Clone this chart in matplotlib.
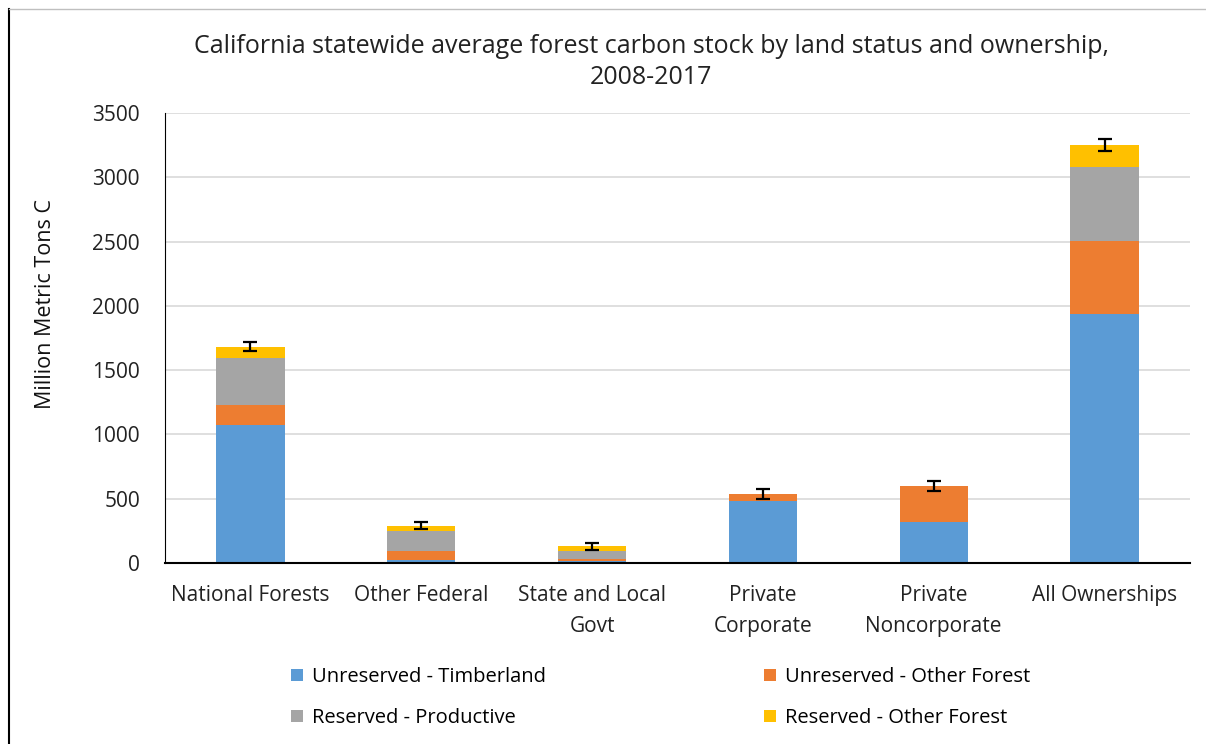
import numpy as np
import matplotlib.pyplot as plt
from matplotlib.lines import Line2D

plt.rcParams['font.family'] = ['Open Sans', 'DejaVu Sans']

# Data (million metric tons C)
owners = ['National Forests', 'Other Federal', 'State and Local\nGovt',
          'Private\nCorporate', 'Private\nNoncorporate', 'All Ownerships']
unres_timber = [1074, 27, 13, 482, 319, 1935]
unres_other = [155, 66, 16, 55, 280, 570]
res_productive = [363, 153, 64, 0, 0, 576]
res_other = [91, 44, 37, 0, 0, 171]
total_err = [35, 29, 25, 36, 36, 49]

series = [
    ('Unreserved - Timberland', unres_timber, '#5b9bd5'),
    ('Unreserved - Other Forest', unres_other, '#ed7d31'),
    ('Reserved - Productive', res_productive, '#a5a5a5'),
    ('Reserved - Other Forest', res_other, '#ffc000'),
]

W, H = 1206, 744
fig = plt.figure(figsize=(W / 100, H / 100), dpi=100)
ax = fig.add_axes([165 / W, 1 - 563 / H, 1025 / W, 450 / H])

x = np.arange(len(owners))
bottom = np.zeros(len(owners))
handles = []
for label, vals, color in series:
    vals = np.array(vals, dtype=float)
    b = ax.bar(x, vals, width=0.4, bottom=bottom, color=color, label=label, zorder=2)
    handles.append(b)
    bottom += vals

ax.errorbar(x, bottom, yerr=total_err, fmt='none', ecolor='black',
            elinewidth=1.6, capsize=5, capthick=1.6, zorder=3)

ax.set_xlim(-0.5, len(owners) - 0.5)
ax.set_ylim(0, 3500)
ax.set_yticks(np.arange(0, 3501, 500))
ax.yaxis.grid(True, color='#d9d9d9', linewidth=1.2, zorder=0)
ax.set_axisbelow(True)
ax.set_xticks(x)
ax.set_xticklabels(owners, fontsize=15, color='#222222', linespacing=1.6)
ax.tick_params(axis='y', labelsize=15, length=0, pad=18, labelcolor='#222222')
ax.tick_params(axis='x', length=0, pad=16)
for s in ['top', 'right']:
    ax.spines[s].set_visible(False)
ax.spines['left'].set_color('black')
ax.spines['bottom'].set_color('black')
ax.spines['bottom'].set_linewidth(1.5)

ax.set_ylabel('Million Metric Tons C', fontsize=15.5, color='#111111')
ax.yaxis.set_label_coords(-0.106, 0.576)

fig.text(0.54, 1 - 62 / H,
         'California statewide average forest carbon stock by land status and ownership,\n2008-2017',
         ha='center', va='center', fontsize=18, color='#222222', linespacing=1.3)

# legend: two columns, filled row by row
for col, (i, j) in enumerate([(0, 2), (1, 3)]):
    x0 = [291, 764][col]
    fig.legend(handles=[handles[i], handles[j]], labels=[series[i][0], series[j][0]],
               loc='upper left', bbox_to_anchor=(x0 / W, 1 - 667 / H),
               frameon=False, fontsize=14.5, borderpad=0, borderaxespad=0,
               handlelength=0.6, handleheight=0.6, handletextpad=0.45,
               labelspacing=1.05)

# figure frame
fig.add_artist(Line2D([9 / W, 9 / W], [0, 1 - 9 / H], color='black', lw=1.5))
fig.add_artist(Line2D([9 / W, 1], [1 - 9 / H, 1 - 9 / H], color='#bfbfbf', lw=1))

fig.savefig('out.png', dpi=100)
